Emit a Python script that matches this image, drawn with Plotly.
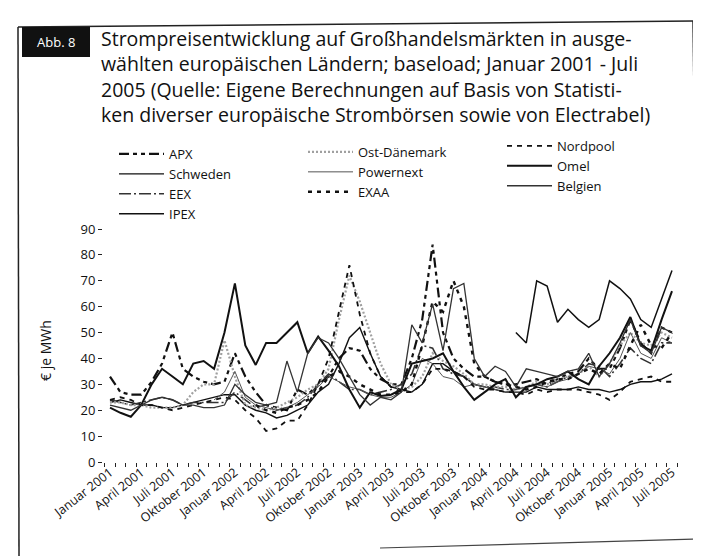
import plotly.graph_objects as go

# ---------------- data ----------------
months = list(range(55))  # Jan 2001 ... Jul 2005
tick_pos = list(range(0, 55, 3))
tick_text = ["Januar 2001", "April 2001", "Juli 2001", "Oktober 2001",
             "Januar 2002", "April 2002", "Juli 2002", "Oktober 2002",
             "Januar 2003", "April 2003", "Juli 2003", "Oktober 2003",
             "Januar 2004", "April 2004", "Juli 2004", "Oktober 2004",
             "Januar 2005", "April 2005", "Juli 2005"]

apx = [33, 27, 26, 26, 31, 38, 50, 36, 33, 31, 30, 31,
       42, 33, 27, 22, 21, 20, 28, 26, 30, 33, 40, 44,
       43, 36, 32, 30, 30, 40, 55, 84, 50, 40, 36, 33,
       33, 31, 30, 30, 31, 32, 30, 32, 34, 35, 40, 36,
       36, 44, 55, 46, 42, 52, 50]
schweden = [23, 24, 23, 22, 22, 21, 21, 22, 23, 24, 25, 26,
            26, 22, 20, 19, 17, 18, 20, 22, 27, 30, 38, 48,
            52, 42, 33, 29, 28, 27, 30, 38, 38, 35, 33, 30,
            29, 28, 27, 27, 27, 29, 28, 28, 28, 29, 28, 28,
            27, 28, 30, 31, 31, 32, 34]
eex = [24, 23, 22, 23, 24, 25, 24, 22, 23, 23, 23, 23,
       27, 24, 21, 22, 20, 21, 22, 25, 30, 34, 31, 28,
       28, 26, 27, 28, 30, 34, 45, 44, 36, 34, 33, 30,
       29, 29, 28, 28, 29, 30, 29, 31, 33, 34, 38, 37,
       33, 38, 44, 40, 38, 46, 46]
ipex = [None] * 39 + [50, 46, 70, 68, 54, 59, 55, 52, 55, 70, 67, 63, 55, 52, 63, 74]
ost_daenemark = [23, 23, 22, 22, 21, 21, 21, 22, 27, 30, 30, 47,
                 33, 22, 21, 20, 21, 23, 25, 28, 30, 36, 55, 72,
                 62, 50, 38, 30, 28, 29, 33, 42, 39, 37, 34, 30,
                 30, 29, 29, 28, 29, 31, 30, 32, 33, 34, 37, 33,
                 38, 45, 50, 46, 45, 50, 48]
powernext = [None] * 10 + [24, 27, 35, 25, 22, 21, 20, 21, 23, 26,
                           29, 33, 31, 29, 28, 26, 25, 25, 27, 30,
                           40, 38, 33, 32, 29, 30, 29, 28, 27, 28,
                           29, 30, 29, 31, 32, 34, 37, 36, 34, 40,
                           50, 42, 40, 48, 46]
exaa = [None] * 14 + [22, 20, 19, 21, 22, 24, 27, 33, 35, 33,
                      30, 28, 26, 26, 27, 30, 45, 62, 58, 70,
                      60, 38, 33, 31, 30, 29, 28, 29, 31, 32,
                      32, 34, 36, 34, 38, 36, 45, 53, 45, 44, 50]
nordpool = [24, 25, 24, 22, 22, 21, 20, 21, 22, 23, 24, 25,
            24, 20, 17, 12, 13, 16, 16, 22, 30, 40, 58, 76,
            57, 42, 33, 29, 27, 27, 30, 36, 36, 35, 33, 29,
            28, 28, 27, 27, 26, 28, 27, 28, 28, 28, 27, 26,
            24, 27, 31, 32, 33, 31, 31]
omel = [21, 19, 17.5, 22, 30, 36, 33, 30, 38, 39, 36, 50,
        69, 45, 37.5, 46, 46, 50, 54, 42, 48.5, 43, 37, 28,
        21, 27, 25.5, 26, 28, 38, 39, 40, 42, 35, 29, 24,
        27, 30, 32, 25, 29, 30, 32, 33, 35, 32, 30, 37,
        42, 48, 56, 45, 43, 55, 66]
belgien = [22, 21, 20, 22, 24, 25, 24, 22, 22, 21, 21, 22,
           30, 26, 23, 22, 23, 39, 27, 42, 48, 46, 40, 33,
           26, 22, 25, 24, 27, 53, 46, 61, 43, 67, 69, 40,
           33, 37, 35, 29, 36, 35, 34, 33, 35, 36, 42, 33,
           38, 46, 55, 45, 42, 52, 50]

# ---------------- layout geometry ----------------
# coordinates below are in window pixels; the page body adds an 8 px offset
OFF = 8
WIN_W, WIN_H = 701, 556
FW, FH = WIN_W - OFF, WIN_H - OFF
L, R, T, B = 103, 685, 214, 462        # plot area in window pixels
W, H = R - L, B - T


def px(x):
    return (x - L) / W


def py(y):
    return (B - y) / H


FONT = "Open Sans"
series = [
    ("APX", apx, dict(color="#111", width=2.2, dash="10px,4px,4px,4px,4px,4px"), "legend"),
    ("Schweden", schweden, dict(color="#111", width=1.4), "legend"),
    ("EEX", eex, dict(color="#333", width=1.6, dash="12px,3px,2px,3px"), "legend"),
    ("IPEX", ipex, dict(color="#111", width=1.5), "legend"),
    ("Ost-Dänemark", ost_daenemark, dict(color="#a0a0a0", width=2.2, dash="2px,2px"), "legend2"),
    ("Powernext", powernext, dict(color="#555", width=1.0), "legend2"),
    ("EXAA", exaa, dict(color="#111", width=2.4, dash="4px,5px"), "legend2"),
    ("Nordpool", nordpool, dict(color="#111", width=1.8, dash="5px,5px"), "legend3"),
    ("Omel", omel, dict(color="#111", width=2.0), "legend3"),
    ("Belgien", belgien, dict(color="#333", width=1.3), "legend3"),
]

fig = go.Figure()
for name, vals, line, leg in series:
    fig.add_trace(go.Scatter(x=months, y=vals, name=name, mode="lines",
                             line=line, connectgaps=False, legend=leg))

shapes = [
    dict(type="line", xref="paper", yref="paper", x0=px(18), y0=py(27), x1=px(694), y1=py(21),
         line=dict(color="#222", width=1.5)),
    dict(type="line", xref="paper", yref="paper", x0=px(18), y0=py(27), x1=px(19), y1=py(556),
         line=dict(color="#222", width=1.5)),
    dict(type="line", xref="paper", yref="paper", x0=px(693), y0=py(21), x1=px(698), y1=py(402),
         line=dict(color="#222", width=1.5)),
    dict(type="line", xref="paper", yref="paper", x0=px(380), y0=py(548), x1=px(701), y1=py(539),
         line=dict(color="#444", width=1.2)),
    dict(type="rect", xref="paper", yref="paper", x0=px(22), y0=py(27), x1=px(90), y1=py(57),
         fillcolor="#111", line=dict(width=0)),
]

title_text = ("Strompreisentwicklung auf Großhandelsmärkten in ausge-<br>"
              "wählten europäischen Ländern; baseload; Januar 2001 - Juli<br>"
              "2005 (Quelle: Eigene Berechnungen auf Basis von Statisti-<br>"
              "ken diverser europäische Strombörsen sowie von Electrabel)")
annotations = [
    dict(text="Abb. 8", x=px(56), y=py(42), xref="paper", yref="paper", showarrow=False,
         xanchor="center", yanchor="middle", font=dict(family=FONT, size=13, color="white")),
    dict(text="€ je MWh", x=px(45), y=py(350), xref="paper", yref="paper", showarrow=False,
         textangle=-90, xanchor="center", yanchor="middle",
         font=dict(family=FONT, size=14, color="#111")),
    dict(text=title_text, x=px(99), y=py(77), xref="paper", yref="paper", showarrow=False,
         xanchor="left", yanchor="middle", align="left",
         font=dict(family=FONT, size=19.5, color="#111")),
]


def leg(x, y):
    return dict(orientation="v", x=px(x), y=py(y), xanchor="left", yanchor="top",
                itemwidth=45, font=dict(family=FONT, size=13, color="#111"),
                bgcolor="rgba(0,0,0,0)", traceorder="normal")


fig.update_layout(
    width=FW, height=FH,
    margin=dict(l=L - OFF, r=WIN_W - R, t=T - OFF, b=WIN_H - B, pad=0),
    paper_bgcolor="white", plot_bgcolor="white",
    font=dict(family=FONT, size=13, color="#111"),
    showlegend=True,
    legend=leg(114, 139),
    legend2=leg(303, 137),
    legend3=leg(502, 131),
    shapes=shapes,
    annotations=annotations,
    xaxis=dict(range=[-0.673, 55.25], tickmode="array", tickvals=tick_pos, ticktext=tick_text,
               tickangle=-38, ticks="", showgrid=False, zeroline=False, showline=False,
               automargin=False,
               tickfont=dict(family=FONT, size=12.5, color="#111"),
               minor=dict(tickmode="linear", tick0=-0.5, dtick=1, ticks="outside",
                          ticklen=4, tickwidth=1.2, tickcolor="#222", showgrid=False)),
    yaxis=dict(range=[0, 95.8], tickmode="array", tickvals=list(range(0, 100, 10)),
               ticks="outside", ticklen=4, tickwidth=1.2, tickcolor="#222",
               showgrid=False, zeroline=False, showline=False, automargin=False,
               tickfont=dict(family=FONT, size=13, color="#111")),
)

fig.write_html("out.html")
